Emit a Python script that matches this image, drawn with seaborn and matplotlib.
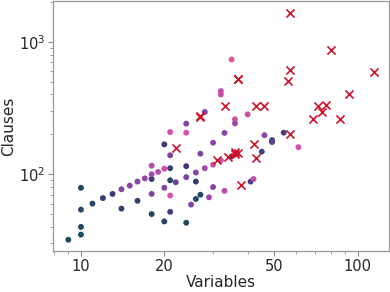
import seaborn as sns
import numpy as np
import pandas as pd
import matplotlib.pyplot as plt
from matplotlib.ticker import ScalarFormatter, NullFormatter

# solved instances (dots), colour = relative position in the family
sat_vars = [9, 10, 10, 10, 10, 11, 12, 13, 14, 14, 15, 16, 16, 17, 18, 18, 18, 18, 18, 19,
            20, 20, 20, 20, 21, 21, 21, 21, 21, 21, 22, 24, 24, 24, 24, 24, 25, 26, 26, 26,
            27, 27, 28, 28, 29, 30, 30, 30, 32, 32, 32, 33, 33, 35, 35, 36, 36, 40, 41, 42,
            45, 46, 49, 49, 54, 61]
sat_clauses = [32, 35, 40, 54, 79, 60, 66, 71, 55, 77, 82, 63, 88, 93, 50, 71, 92, 100, 116, 104,
               168, 110, 79, 44, 208, 139, 111, 90, 69, 52, 87, 241, 206, 115, 95, 43, 59, 103, 88, 65,
               70, 143, 295, 111, 67, 173, 118, 80, 424, 400, 127, 205, 75, 735, 136, 260, 242, 283, 88, 92,
               148, 197, 181, 175, 206, 160]
sat_ratio = [0.0, 0.0, 0.0, 0.1, 0.0, 0.1, 0.2, 0.25, 0.15, 0.55, 0.6, 0.2, 0.6, 0.65, 0.05, 0.55, 0.25, 0.75, 0.8, 0.8,
             0.25, 0.9, 0.55, 0.1, 0.95, 0.55, 0.25, 0.1, 0.95, 0.3, 0.45, 0.55, 0.95, 0.25, 0.55, 0.05, 0.55, 0.55, 0.2, 0.05,
             0.05, 0.55, 0.55, 0.7, 0.7, 0.6, 0.9, 0.6, 0.85, 0.85, 0.9, 0.6, 0.8, 1.0, 0.3, 0.9, 0.65, 0.9, 0.3, 0.85,
             0.3, 0.6, 0.3, 0.4, 0.3, 0.95]

# failed instances (crosses)
fail_vars = [22, 27, 27, 31, 33, 34, 36, 37, 36, 37, 37, 38, 42, 43, 43, 46, 57, 57, 56, 57,
             69, 72, 74, 77, 80, 86, 93, 114]
fail_clauses = [158, 276, 272, 129, 325, 135, 148, 144, 142, 527, 520, 83, 169, 325, 132, 325, 1663, 611, 502, 202,
                262, 325, 295, 334, 860, 262, 400, 593]

sat = pd.DataFrame({'Variables': sat_vars, 'Clauses': sat_clauses, 'ratio': sat_ratio})
fail = pd.DataFrame({'Variables': fail_vars, 'Clauses': fail_clauses})

sns.set_style('white')
plt.rcParams['font.family'] = ['DejaVu Sans']

cmap = sns.blend_palette(['#1b4b5e', '#3b3c73', '#7443a0', '#aa4aae', '#e2559f'], as_cmap=True)

fig, ax = plt.subplots(figsize=(3.9, 2.92), dpi=100)
sns.scatterplot(data=sat, x='Variables', y='Clauses', hue='ratio', palette=cmap,
                hue_norm=(0, 1), s=18, linewidth=0, legend=False, ax=ax)
sns.scatterplot(data=fail, x='Variables', y='Clauses', marker='x', color='#d0112b',
                s=34, linewidth=1.2, legend=False, ax=ax)

ax.set_xscale('log')
ax.set_yscale('log')
ax.set_xticks([10, 20, 50, 100])
ax.xaxis.set_major_formatter(ScalarFormatter())
ax.xaxis.set_minor_formatter(NullFormatter())

ax.set_xlabel('Variables', fontsize=11, labelpad=1)
ax.set_ylabel('Clauses', fontsize=11, labelpad=2)
ax.tick_params(axis='both', which='major', labelsize=10.5, length=3.5, width=0.8,
               color='0.55', bottom=True, left=True, pad=2)
ax.tick_params(axis='both', which='minor', length=2, width=0.6, color='0.55',
               bottom=True, left=True)
for sp in ax.spines.values():
    sp.set_color('0.6')
    sp.set_linewidth(0.9)

fig.subplots_adjust(left=0.136, right=0.997, bottom=0.14, top=0.996)
fig.savefig('out.png', dpi=100)
